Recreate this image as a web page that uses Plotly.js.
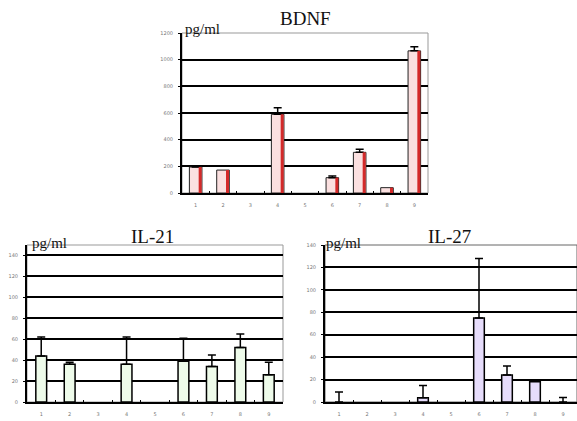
<!DOCTYPE html>
<html>
<head>
<meta charset="utf-8">
<script src="https://cdn.plot.ly/plotly-3.0.1.min.js"></script>
<style>html,body{margin:0;padding:0;background:#fff;}#chart{width:577px;height:421px;}</style>
</head>
<body>
<div id="chart"></div>
<script>
const categories = ["1","2","3","4","5","6","7","8","9"];

const bdnfValues = [195, 172, 0, 590, 0, 115, 305, 40, 1066];
const bdnfErr    = [10, 0, 0, 50, 0, 13, 23, 0, 31];

const il21Values = [44, 36, 0, 36, 0, 39, 34, 52, 26];
const il21Err    = [18, 2, 0, 26, 0, 22, 11, 13, 12];

const il27Values = [0, 0, 0, 3.8, 0, 75, 24, 18, 0];
const il27Err    = [9, 0, 0, 11, 0, 53, 8, 0, 4];

const bdnfTicks = [0, 200, 400, 600, 800, 1000, 1200];
const il21Ticks = [0, 20, 40, 60, 80, 100, 120, 140];
const il27Ticks = [0, 20, 40, 60, 80, 100, 120, 140];

function errs(a){
  const up = a.map(v => v > 0 ? v : NaN);
  return {type:'data', symmetric:false, array:up, arrayminus:a.map(v => v > 0 ? 0 : NaN), color:'#000', thickness:1.5, width:4};
}
function lw(vals, w){ return vals.map(v => v > 0 ? w : 0); }

const traces = [
  {type:'bar', x:categories, y:bdnfValues, xaxis:'x', yaxis:'y', width:0.46, offset:-0.23,
   marker:{color:'#fbe0e0', line:{color:'#222', width:lw(bdnfValues, 1)}}, error_y:errs(bdnfErr), hoverinfo:'none'},
  {type:'bar', x:categories, y:bdnfValues, xaxis:'x', yaxis:'y', width:0.11, offset:0.11,
   marker:{color:'#d42a2a', line:{width:0}}, hoverinfo:'none'},
  {type:'bar', x:categories, y:il21Values, xaxis:'x2', yaxis:'y2', width:0.38, offset:-0.19,
   marker:{color:'#eefbea', line:{color:'#000', width:lw(il21Values, 1.5)}}, error_y:errs(il21Err), hoverinfo:'none'},
  {type:'bar', x:categories, y:il27Values, xaxis:'x3', yaxis:'y3', width:0.38, offset:-0.19,
   marker:{color:'#e6dcfb', line:{color:'#000', width:lw(il27Values, 1.5)}}, error_y:errs(il27Err), hoverinfo:'none'}
];

const tickFont = {family:'DejaVu Sans, sans-serif', size:5, color:'#777'};
function xa(domain, anchor){
  return {domain:domain, anchor:anchor, type:'category', showgrid:false, showline:true, linecolor:'#000', linewidth:2,
    ticks:'inside', ticklen:2, tickcolor:'#000', tickson:'boundaries', tickfont:tickFont, zeroline:false, fixedrange:true,
    ticklabelstandoff:6};
}
function ya(domain, anchor, range, ticks){
  return {domain:domain, anchor:anchor, range:range, tickvals:ticks, ticktext:ticks.map(String),
    showgrid:true, gridcolor:'#000', gridwidth:2, showline:true, linecolor:'#000', linewidth:2,
    ticks:'outside', ticklen:2, tickcolor:'#000', tickfont:tickFont, zeroline:false, fixedrange:true, ticklabelstandoff:4};
}

const serif = 'Liberation Serif, Times New Roman, serif';
function ann(text, x, y, size){
  return {text:text, xref:'paper', yref:'paper', x:x/577, y:1-y/421, xanchor:'center', yanchor:'middle',
    showarrow:false, font:{family:serif, size:size, color:'#111'}};
}

const layout = {
  width:577, height:421, margin:{l:0, r:0, t:0, b:0},
  paper_bgcolor:'#fff', plot_bgcolor:'#fff', showlegend:false, barmode:'overlay',
  xaxis: xa([182/577, 428/577], 'y'),
  yaxis: ya([1-193/421, 1-33/421], 'x', [0, 1200], bdnfTicks),
  xaxis2: xa([27/577, 283/577], 'y2'),
  yaxis2: ya([1-402/421, 1-245/421], 'x2', [0, 150], il21Ticks),
  xaxis3: xa([325/577, 1], 'y3'),
  yaxis3: ya([1-402/421, 1-245/421], 'x3', [0, 140], il27Ticks),
  shapes: [
    {type:'rect', xref:'x domain', yref:'y domain', x0:0, x1:1, y0:0, y1:1, line:{color:'#999', width:1}, layer:'below'},
    {type:'rect', xref:'x2 domain', yref:'y2 domain', x0:0, x1:1, y0:0, y1:1, line:{color:'#999', width:1}, layer:'below'},
    {type:'rect', xref:'x3 domain', yref:'y3 domain', x0:0, x1:1, y0:0, y1:1, line:{color:'#666', width:1}, layer:'below'}
  ],
  annotations: [
    ann('BDNF', 305, 18, 19),
    ann('pg/ml', 202, 29, 15),
    ann('IL-21', 152, 236, 19),
    ann('pg/ml', 49, 243, 15),
    ann('IL-27', 449, 236, 19),
    ann('pg/ml', 343, 243, 15)
  ]
};

Plotly.newPlot('chart', traces, layout, {displayModeBar:false, staticPlot:true});
</script>
</body>
</html>
